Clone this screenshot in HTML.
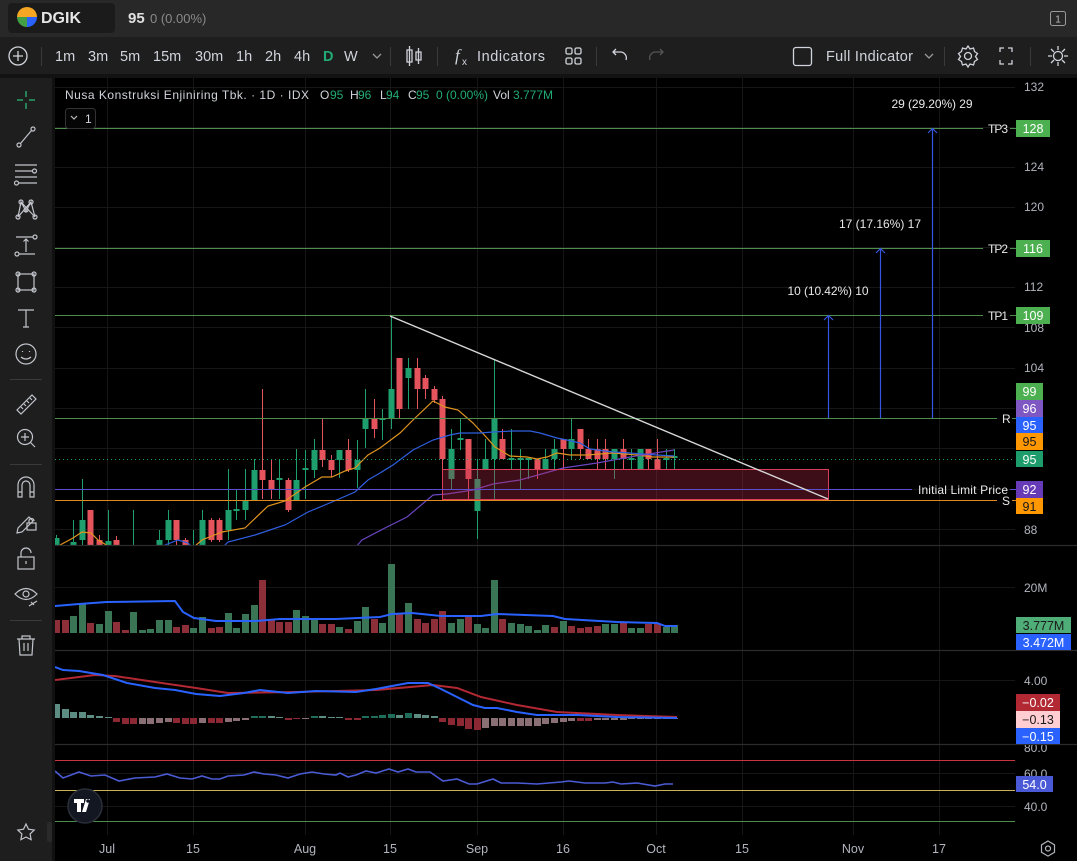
<!DOCTYPE html>
<html><head><meta charset="utf-8">
<style>
html,body{margin:0;padding:0;background:#000;width:1077px;height:861px;overflow:hidden}
svg{display:block;font-family:"Liberation Sans",sans-serif}
</style></head><body>
<svg width="1077" height="861" viewBox="0 0 1077 861" xmlns="http://www.w3.org/2000/svg">
<defs>
<clipPath id="cm"><rect x="55" y="78" width="960" height="467"/></clipPath>
<clipPath id="cp"><rect x="55" y="545" width="960" height="290"/></clipPath>
<clipPath id="cr"><rect x="1015" y="745" width="62" height="90"/></clipPath>
</defs>
<rect width="1077" height="861" fill="#000"/>
<!-- header -->
<rect x="0" y="0" width="1077" height="37" fill="#282828"/>
<rect x="0" y="37" width="1077" height="37" fill="#1e1e1e"/>
<rect x="0" y="74" width="1077" height="4" fill="#121212"/>
<rect x="0" y="78" width="52" height="783" fill="#1e1e1e"/>
<rect x="52" y="78" width="3" height="783" fill="#111"/>
<rect x="8" y="3" width="107" height="30" rx="4" fill="#1b1b1b"/>
<path d="M17,17 A10,10 0 0 1 37,17 Z" fill="#f5a623"/>
<path d="M17,17 L27,17 L27,27 A10,10 0 0 1 17,17 Z" fill="#43a047"/>
<path d="M27,17 L37,17 A10,10 0 0 1 27,27 Z" fill="#2962ff"/>
<text x="41" y="23" font-size="16" font-weight="bold" fill="#e6e6e6">DGIK</text>
<text x="128" y="23" font-size="15" font-weight="bold" fill="#e0e0e0">95</text>
<text x="150" y="23" font-size="13" fill="#8a8a8a">0 (0.00%)</text>
<rect x="1050.5" y="11.5" width="15" height="14" rx="2" fill="none" stroke="#9a9a9a"/>
<text x="1058" y="22.5" font-size="10" fill="#bbb" text-anchor="middle">1</text>
<!-- toolbar -->
<g fill="none" stroke="#d1d4dc" stroke-width="1.3">
<circle cx="18" cy="56" r="9"/><path d="M18,51V61M13,56H23"/>
<path d="M373,54l4,4l4,-4" stroke="#999"/>
<path d="M409.5,46V66M407,50h5v12h-5z M418.5,48V64M416,52h5v8h-5z"/>
<rect x="566" y="48" width="6" height="6" rx="1.5"/><rect x="575" y="48" width="6" height="6" rx="1.5"/><rect x="566" y="58" width="6" height="6" rx="1.5"/><rect x="575" y="58" width="6" height="6" rx="1.5"/>
<path d="M626,60 A6,6 0 0 0 620,52 H613 M616,49l-3,3l3,3"/>
<path d="M650,60 A6,6 0 0 1 656,52 H663 M660,49l3,3l-3,3" stroke="#555"/>
<rect x="793.5" y="47.5" width="18" height="18" rx="2.5"/>
<path d="M925,54l4,4l4,-4" stroke="#999"/>
<circle cx="968" cy="56" r="3.5"/><path d="M968,46l2,3l3.5,-1l1,3.5l3,2l-2,3l2,3l-3,2l-1,3.5l-3.5,-1l-2,3l-2,-3l-3.5,1l-1,-3.5l-3,-2l2,-3l-2,-3l3,-2l1,-3.5l3.5,1z"/>
<path d="M1000,52v-4h4M1008,48h4v4M1012,60v4h-4M1004,64h-4v-4"/>
<circle cx="1058" cy="56" r="4.5"/><path d="M1058,46v4M1058,62v4M1048,56h4M1064,56h4M1051,49l3,3M1062,60l3,3M1065,49l-3,3M1054,60l-3,3"/>
</g>
<g stroke="#3a3a3a"><path d="M41.5,47V66M390.5,47V66M437.5,47V66M596.5,47V66M944.5,47V66M1030.5,47V66"/></g>
<g font-size="14.5" fill="#d1d4dc">
<text x="55" y="61">1m</text><text x="88" y="61">3m</text><text x="120" y="61">5m</text><text x="153" y="61">15m</text><text x="195" y="61">30m</text><text x="236" y="61">1h</text><text x="265" y="61">2h</text><text x="294" y="61">4h</text>
<text x="323" y="61" fill="#22ab74" font-weight="bold">D</text><text x="344" y="61">W</text>
<text x="455" y="61" font-style="italic" font-size="17" font-family="Liberation Serif,serif">f</text><text x="462" y="65" font-size="10">x</text>
<text x="477" y="61" textLength="68">Indicators</text>
<text x="826" y="61" textLength="87">Full Indicator</text>
</g>
<!-- left toolbar icons -->
<g fill="none" stroke="#c2c5cc" stroke-width="1.2">
<path d="M26,91V97M26,103V109M17,100H23M29,100H35" stroke="#26a269" stroke-width="1.5"/>
<circle cx="19" cy="145" r="2"/><circle cx="33" cy="129" r="2"/><path d="M20.5,143.5L31.5,130.5"/>
<path d="M15,165H37M15,171H32M15,177H37M19,183H37"/><circle cx="34.5" cy="171" r="2"/><circle cx="16.5" cy="183" r="2"/>
<path d="M18,217L21,202L26,211L31,202L35,217M18,217L31,202M21,202L35,217"/><circle cx="18" cy="217" r="2"/><circle cx="21" cy="202" r="2"/><circle cx="31" cy="202" r="2"/><circle cx="35" cy="217" r="2"/><circle cx="26" cy="210" r="2"/>
<path d="M16,237H33M19,254H35M26,252V239M23.5,241.5L26,239L28.5,241.5"/><circle cx="35" cy="237" r="2"/><circle cx="17" cy="254" r="2"/>
<rect x="18" y="274" width="16" height="16"/><circle cx="18" cy="274" r="2"/><circle cx="34" cy="274" r="2"/><circle cx="18" cy="290" r="2"/><circle cx="34" cy="290" r="2"/>
<path d="M18,310H34M26,310V327M23,327H29"/>
<circle cx="26" cy="354" r="10"/><path d="M21,357q5,4 10,0M22.5,351v1M29.5,351v1"/>
<path d="M17,410L32,395L36,399L21,414Z M21,407l2,2M24,404l2,2M27,401l2,2M30,398l2,2"/>
<circle cx="25" cy="437" r="7.5"/><path d="M25,433v8M21,437h8M30.5,442.5L35,447"/>
<path d="M18,497V485a8,8 0 0 1 16,0V497H30V485a4,4 0 0 0 -8,0V497Z M18,492h4M30,492h4"/>
<path d="M18,528L29,517L33,521L22,532L17,533Z"/><rect x="27" y="523" width="9" height="7"/><path d="M29,523v-2a2.5,2.5 0 0 1 5,0"/>
<rect x="18" y="557" width="16" height="12"/><path d="M21,557v-4a5,5 0 0 1 10,0"/><path d="M26,561v3"/>
<path d="M15,594q11,-11 22,0q-11,11 -22,0Z"/><circle cx="26" cy="594" r="3"/><path d="M29,606l8,-5M31,602l3,3"/>
<path d="M17,639H35M22,639V636H30V639M19,639L20,655H32L33,639M24,643V651M28,643V651"/>
<path d="M26,824l2.5,5.2l5.7,0.8l-4.1,4l1,5.7l-5.1,-2.7l-5.1,2.7l1,-5.7l-4.1,-4l5.7,-0.8Z"/>
</g>
<g stroke="#3a3a3a"><path d="M10,379.5H42M10,464.5H42M10,620.5H42"/></g>
<rect x="47" y="822" width="5" height="20" rx="2" fill="#2a2a2a"/>
<!-- grid -->
<g stroke="#161616" stroke-width="1">
<path d="M107.5,78V835M193.5,78V835M305.5,78V835M390.5,78V835M477.5,78V835M563.5,78V835M656.5,78V835M742.5,78V835M853.5,78V835M939.5,78V835"/>
<path d="M55,87.5H1015M55,127.5H1015M55,167.5H1015M55,207.5H1015M55,247.5H1015M55,287.5H1015M55,327.5H1015M55,368.5H1015M55,408.5H1015M55,448.5H1015M55,489.5H1015M55,529.5H1015"/>
<path d="M55,587.5H1015M55,680.5H1015M55,773.5H1015M55,806.5H1015"/>
</g>
<!-- main pane -->
<g clip-path="url(#cm)">
<g stroke="#1e9f6d" stroke-width="1"><path d="M56.5,535V545M73.5,520V545M82.5,479V545M108.5,510V545M133.5,510V545M159.5,530V545M168.5,510V545M193.5,530V545M202.5,510V545M228.5,469V540M236.5,489V520M245.5,469V520M254.5,459V501M279.5,459V499M296.5,449V500M305.5,450V499M314.5,439V478M339.5,450V478M357.5,440V488M365.5,389V448M382.5,409V440M391.5,316V429M408.5,358V409M451.5,429V489M460.5,419V450M477.5,459V539M485.5,439V469M494.5,359V499M511.5,429V470M520.5,449V489M528.5,459V479M545.5,449V469M554.5,439V469M571.5,419V459M614.5,449V479M631.5,449V469M640.5,449V469M666.5,449V469M674.5,449V469"/></g>
<g fill="#1e9f6d">
<rect x="53.5" y="538" width="6" height="7"/><rect x="70.5" y="542" width="6" height="3"/><rect x="79.5" y="520" width="6" height="20"/><rect x="105.5" y="541" width="6" height="4"/><rect x="156.5" y="540" width="6" height="5"/><rect x="165.5" y="520" width="6" height="20"/><rect x="199.5" y="520" width="6" height="25"/><rect x="225.5" y="510" width="6" height="20"/><rect x="233.5" y="509" width="6" height="2"/><rect x="242.5" y="500" width="6" height="10"/><rect x="251.5" y="470" width="6" height="30"/><rect x="276.5" y="478" width="6" height="2"/><rect x="293.5" y="480" width="6" height="20"/><rect x="302.5" y="468" width="6" height="2"/><rect x="311.5" y="450" width="6" height="20"/><rect x="336.5" y="450" width="6" height="10"/><rect x="354.5" y="460" width="6" height="10"/><rect x="362.5" y="419" width="6" height="10"/><rect x="379.5" y="418" width="6" height="2"/><rect x="388.5" y="389" width="6" height="30"/><rect x="405.5" y="368" width="6" height="10"/><rect x="448.5" y="449" width="6" height="30"/><rect x="457.5" y="438" width="6" height="2"/><rect x="474.5" y="479" width="6" height="32"/><rect x="482.5" y="459" width="6" height="10"/><rect x="491.5" y="419" width="6" height="40"/><rect x="508.5" y="458" width="6" height="2"/><rect x="517.5" y="458" width="6" height="2"/><rect x="525.5" y="458" width="6" height="2"/><rect x="542.5" y="459" width="6" height="10"/><rect x="551.5" y="449" width="6" height="10"/><rect x="568.5" y="439" width="6" height="10"/><rect x="611.5" y="449" width="6" height="10"/><rect x="628.5" y="458" width="6" height="2"/><rect x="637.5" y="449" width="6" height="20"/><rect x="663.5" y="458" width="6" height="2"/><rect x="671.5" y="456" width="6" height="2"/>
</g>
<g stroke="#e5535d" stroke-width="1"><path d="M90.5,510V545M99.5,535V545M116.5,536V545M176.5,520V545M185.5,538V545M211.5,518V542M219.5,518V542M262.5,389V499M271.5,459V499M288.5,478V512M322.5,419V467M331.5,455V477M348.5,439V472M374.5,399V438M399.5,358V419M417.5,358V409M425.5,375V399M434.5,386V403M442.5,396V469M468.5,439V499M502.5,429V459M537.5,459V479M563.5,439V469M580.5,429V459M588.5,439V459M597.5,439V469M605.5,439V469M623.5,439V469M648.5,449V469M657.5,439V469"/></g>
<g fill="#e5535d">
<rect x="87.5" y="510" width="6" height="35"/><rect x="96.5" y="540" width="6" height="5"/><rect x="113.5" y="540" width="6" height="5"/><rect x="173.5" y="520" width="6" height="20"/><rect x="182.5" y="540" width="6" height="5"/><rect x="208.5" y="520" width="6" height="20"/><rect x="216.5" y="520" width="6" height="20"/><rect x="259.5" y="470" width="6" height="10"/><rect x="268.5" y="480" width="6" height="10"/><rect x="285.5" y="480" width="6" height="30"/><rect x="319.5" y="450" width="6" height="10"/><rect x="328.5" y="460" width="6" height="10"/><rect x="345.5" y="450" width="6" height="20"/><rect x="371.5" y="419" width="6" height="10"/><rect x="396.5" y="358" width="6" height="51"/><rect x="414.5" y="368" width="6" height="21"/><rect x="422.5" y="378" width="6" height="11"/><rect x="431.5" y="389" width="6" height="11"/><rect x="439.5" y="399" width="6" height="60"/><rect x="465.5" y="439" width="6" height="40"/><rect x="499.5" y="439" width="6" height="20"/><rect x="534.5" y="459" width="6" height="10"/><rect x="560.5" y="439" width="6" height="10"/><rect x="577.5" y="429" width="6" height="20"/><rect x="585.5" y="449" width="6" height="10"/><rect x="594.5" y="449" width="6" height="10"/><rect x="602.5" y="449" width="6" height="10"/><rect x="620.5" y="449" width="6" height="10"/><rect x="645.5" y="449" width="6" height="10"/><rect x="654.5" y="459" width="6" height="10"/>
</g>
<g fill="none" stroke-width="1.2">
<path stroke="#e0941f" d="M60,545 L73,538 L82,532 L91,533 L98,540 L108,546 M195,546 L202,540 L222,532 L245,528 L268,506 L285,501 L305,487 L322,477 L332,477 L345,471 L355,468 L368,455 L380,448 L400,433 L413,420 L433,401 L445,407 L458,410 L473,423 L487,438 L495,447 L510,456 L527,457 L537,459 L547,457 L557,453 L570,455 L587,455 L613,453 L637,455 L653,457 L674,457"/>
<path stroke="#2f5fe0" d="M160,548 L165,545 L178,540 L188,543 L193,548 M222,548 L228,542 L255,535 L285,525 L308,512 L332,502 L355,492 L368,480 L380,473 L393,465 L413,450 L433,440 L450,435 L460,433 L480,433 L493,432 L513,431 L530,431 L540,433 L557,438 L567,440 L580,443 L590,449 L613,452 L630,453 L657,455 L674,456"/>
<path stroke="#6b45c0" d="M355,548 L362,540 L385,528 L407,517 L433,495 L447,494 L473,490 L493,484 L520,480 L563,468 L597,463 L630,457 L674,450"/>
</g>
<rect x="442.5" y="469.5" width="386" height="30" fill="rgba(190,40,75,0.32)" stroke="#d8405a" stroke-width="1"/>
</g>
<!-- horizontal levels -->
<g stroke-width="1" fill="none">
<path stroke="#4e8f4e" d="M55,128.5H983M1010,128.5H1016M55,248.5H983M1010,248.5H1016M55,315.5H983M1010,315.5H1016M55,418.5H997M1012,418.5H1016"/>
<path stroke="#5a4fcf" d="M55,489.5H912M1010,489.5H1016"/>
<path stroke="#e08a1e" d="M55,500.5H997M1012,500.5H1016"/>
<path stroke="#1e9f6d" stroke-dasharray="1,3" d="M55,459.5H1015"/>
<path stroke="#d8d8d8" stroke-width="1.4" d="M390,316L828,499"/>
<path stroke="#3556e0" stroke-width="1.2" d="M828.5,418V316M824,320l4.5,-4.5l4.5,4.5M880.5,418V249M876,253l4.5,-4.5l4.5,4.5M932.5,418V129M928,133l4.5,-4.5l4.5,4.5"/>
</g>
<g font-size="12" fill="#e8e8e8">
<text x="828" y="295" text-anchor="middle" textLength="81">10 (10.42%) 10</text>
<text x="880" y="228" text-anchor="middle" textLength="82">17 (17.16%) 17</text>
<text x="932" y="108" text-anchor="middle" textLength="81">29 (29.20%) 29</text>
<text x="988" y="133" textLength="20">TP3</text>
<text x="988" y="253" textLength="20">TP2</text>
<text x="988" y="320" textLength="20">TP1</text>
<text x="1002" y="423">R</text>
<text x="918" y="494" textLength="90">Initial Limit Price</text>
<text x="1002" y="505">S</text>
</g>
<!-- legend -->
<g font-size="12" fill="#d1d4dc">
<text x="65" y="99" textLength="244">Nusa Konstruksi Enjiniring Tbk. · 1D · IDX</text>
<text x="320" y="99">O</text><text x="330" y="99" fill="#22ab74">95</text>
<text x="350" y="99">H</text><text x="358" y="99" fill="#22ab74">96</text>
<text x="380" y="99">L</text><text x="386" y="99" fill="#22ab74">94</text>
<text x="408" y="99">C</text><text x="416" y="99" fill="#22ab74">95</text>
<text x="436" y="99" fill="#22ab74" textLength="52">0 (0.00%)</text>
<text x="493" y="99">Vol</text><text x="513" y="99" fill="#22ab74">3.777M</text>
</g>
<rect x="65.5" y="108.5" width="30" height="20" rx="3" fill="#050505" stroke="#333"/>
<path d="M71,116l3,3l3,-3" fill="none" stroke="#bbb" stroke-width="1.2"/>
<text x="85" y="123" font-size="12" fill="#d1d4dc">1</text>
<!-- lower panes -->
<g clip-path="url(#cp)">
<g fill="#3a7656">
<rect x="70" y="616" width="7" height="17"/><rect x="79" y="603" width="7" height="30"/><rect x="96" y="624" width="7" height="9"/><rect x="105" y="611" width="7" height="22"/><rect x="130" y="612" width="7" height="21"/><rect x="139" y="630" width="7" height="3"/><rect x="147" y="629" width="7" height="4"/><rect x="156" y="620" width="7" height="13"/><rect x="165" y="620" width="7" height="13"/><rect x="190" y="628" width="7" height="5"/><rect x="199" y="617" width="7" height="16"/><rect x="225" y="613" width="7" height="20"/><rect x="233" y="628" width="7" height="5"/><rect x="242" y="614" width="7" height="19"/><rect x="251" y="605" width="7" height="28"/><rect x="293" y="610" width="7" height="23"/><rect x="302" y="616" width="7" height="17"/><rect x="311" y="619" width="7" height="14"/><rect x="336" y="627" width="7" height="6"/><rect x="354" y="621" width="7" height="12"/><rect x="362" y="607" width="7" height="26"/><rect x="379" y="623" width="7" height="10"/><rect x="388" y="564" width="7" height="69"/><rect x="405" y="603" width="7" height="30"/><rect x="448" y="623" width="7" height="10"/><rect x="457" y="619" width="7" height="14"/><rect x="474" y="624" width="7" height="9"/><rect x="482" y="628" width="7" height="5"/><rect x="491" y="580" width="7" height="53"/><rect x="508" y="623" width="7" height="10"/><rect x="517" y="624" width="7" height="9"/><rect x="525" y="626" width="7" height="7"/><rect x="534" y="630" width="7" height="3"/><rect x="542" y="625" width="7" height="8"/><rect x="560" y="621" width="7" height="12"/><rect x="602" y="624" width="7" height="9"/><rect x="611" y="624" width="7" height="9"/><rect x="628" y="628" width="7" height="5"/><rect x="637" y="628" width="7" height="5"/><rect x="663" y="627" width="7" height="6"/><rect x="671" y="625" width="7" height="8"/>
</g>
<g fill="#8d2f38">
<rect x="53" y="620" width="7" height="13"/><rect x="62" y="620" width="7" height="13"/><rect x="87" y="623" width="7" height="10"/><rect x="113" y="622" width="7" height="11"/><rect x="122" y="630" width="7" height="3"/><rect x="173" y="627" width="7" height="6"/><rect x="182" y="625" width="7" height="8"/><rect x="208" y="628" width="7" height="5"/><rect x="216" y="627" width="7" height="6"/><rect x="259" y="580" width="7" height="53"/><rect x="268" y="620" width="7" height="13"/><rect x="276" y="622" width="7" height="11"/><rect x="285" y="622" width="7" height="11"/><rect x="319" y="624" width="7" height="9"/><rect x="328" y="624" width="7" height="9"/><rect x="345" y="629" width="7" height="4"/><rect x="371" y="619" width="7" height="14"/><rect x="396" y="614" width="7" height="19"/><rect x="414" y="619" width="7" height="14"/><rect x="422" y="623" width="7" height="10"/><rect x="431" y="619" width="7" height="14"/><rect x="439" y="611" width="7" height="22"/><rect x="465" y="617" width="7" height="16"/><rect x="499" y="619" width="7" height="14"/><rect x="551" y="627" width="7" height="6"/><rect x="568" y="626" width="7" height="7"/><rect x="577" y="628" width="7" height="5"/><rect x="585" y="627" width="7" height="6"/><rect x="594" y="626" width="7" height="7"/><rect x="620" y="623" width="7" height="10"/><rect x="645" y="624" width="7" height="9"/><rect x="654" y="624" width="7" height="9"/>
</g>
<path fill="none" stroke="#2962ff" stroke-width="2" d="M55,606 L79,604 L107,602 L175,601 L183,612 L194,618 L216,621 L256,621 L280,619 L336,619 L380,617 L392,614 L412,613 L441,616 L481,616 L497,614 L553,616 L565,619 L617,622 L657,623 L665,626 L677,626"/>
<!-- MACD hist -->
<g fill="#5d8c82"><rect x="53" y="704" width="7" height="14"/><rect x="62" y="709" width="7" height="9"/><rect x="70" y="712" width="7" height="6"/><rect x="79" y="712" width="7" height="6"/><rect x="87" y="715" width="7" height="3"/><rect x="96" y="716" width="7" height="2"/><rect x="105" y="717" width="7" height="1"/><rect x="268" y="716" width="7" height="2"/><rect x="276" y="717" width="7" height="1"/><rect x="319" y="716" width="7" height="2"/><rect x="328" y="717" width="7" height="1"/><rect x="336" y="717" width="7" height="1"/><rect x="396" y="715" width="7" height="3"/><rect x="414" y="714" width="7" height="4"/><rect x="422" y="715" width="7" height="3"/><rect x="431" y="716" width="7" height="2"/></g>
<g fill="#1f6e5c"><rect x="251" y="716" width="7" height="2"/><rect x="259" y="716" width="7" height="2"/><rect x="311" y="716" width="7" height="2"/><rect x="362" y="716" width="7" height="2"/><rect x="371" y="716" width="7" height="2"/><rect x="379" y="715" width="7" height="3"/><rect x="388" y="714" width="7" height="4"/><rect x="405" y="713" width="7" height="5"/></g>
<g fill="#8c2833"><rect x="113" y="718" width="7" height="4"/><rect x="122" y="718" width="7" height="6"/><rect x="130" y="718" width="7" height="6"/><rect x="173" y="718" width="7" height="5"/><rect x="182" y="718" width="7" height="6"/><rect x="190" y="718" width="7" height="6"/><rect x="208" y="718" width="7" height="5"/><rect x="216" y="718" width="7" height="5"/><rect x="285" y="718" width="7" height="2"/><rect x="293" y="718" width="7" height="1"/><rect x="345" y="718" width="7" height="2"/><rect x="354" y="718" width="7" height="2"/><rect x="439" y="718" width="7" height="4"/><rect x="448" y="718" width="7" height="7"/><rect x="457" y="718" width="7" height="8"/><rect x="465" y="718" width="7" height="11"/><rect x="474" y="718" width="7" height="12"/><rect x="577" y="718" width="7" height="3"/><rect x="585" y="718" width="7" height="3"/></g>
<g fill="#8a7074"><rect x="139" y="718" width="7" height="6"/><rect x="147" y="718" width="7" height="6"/><rect x="156" y="718" width="7" height="5"/><rect x="165" y="718" width="7" height="4"/><rect x="199" y="718" width="7" height="5"/><rect x="225" y="718" width="7" height="4"/><rect x="233" y="718" width="7" height="3"/><rect x="242" y="718" width="7" height="2"/><rect x="302" y="718" width="7" height="1"/><rect x="482" y="718" width="7" height="10"/><rect x="491" y="718" width="7" height="8"/><rect x="499" y="718" width="7" height="8"/><rect x="508" y="718" width="7" height="8"/><rect x="517" y="718" width="7" height="8"/><rect x="525" y="718" width="7" height="8"/><rect x="534" y="718" width="7" height="8"/><rect x="542" y="718" width="7" height="6"/><rect x="551" y="718" width="7" height="5"/><rect x="560" y="718" width="7" height="4"/><rect x="568" y="718" width="7" height="3"/><rect x="594" y="718" width="7" height="2"/><rect x="602" y="718" width="7" height="2"/><rect x="611" y="718" width="7" height="2"/><rect x="620" y="718" width="7" height="2"/><rect x="628" y="718" width="7" height="1"/><rect x="637" y="718" width="7" height="1"/><rect x="645" y="718" width="7" height="1"/><rect x="654" y="718" width="7" height="1"/><rect x="663" y="718" width="7" height="1"/><rect x="671" y="718" width="7" height="1"/></g>
<path fill="none" stroke="#b22833" stroke-width="2" d="M55,680 L95,675 L115,676 L155,682 L196,688 L228,693 L296,692 L376,690 L433,685 L457,688 L481,697 L517,705 L557,712 L617,715 L677,717"/>
<path fill="none" stroke="#2962ff" stroke-width="2" d="M55,667 L63,670 L79,671 L103,675 L127,683 L155,688 L175,690 L196,694 L220,696 L244,693 L260,690 L288,693 L316,691 L356,692 L376,689 L392,686 L408,683 L428,683 L441,689 L457,697 L473,705 L485,708 L497,708 L517,712 L537,715 L577,715 L617,717 L677,718"/>
<!-- RSI -->
<path stroke="#c8343f" d="M55,760.5H1015"/>
<path stroke="#c9b458" d="M55,790.5H1015"/>
<path stroke="#4c8c4c" d="M55,821.5H1015"/>
<path fill="none" stroke="#4a5bd4" stroke-width="1.6" d="M55,771 L63,778 L79,772 L91,776 L105,775 L119,781 L135,778 L155,777 L167,774 L180,778 L192,779 L202,776 L212,779 L220,779 L228,776 L244,775 L254,772 L264,774 L276,775 L288,778 L300,774 L312,772 L324,774 L336,775 L340,773 L348,777 L356,775 L366,771 L376,773 L389,769 L398,772 L408,769 L416,772 L430,772 L443,781 L457,779 L469,784 L477,784 L493,779 L501,783 L517,783 L537,784 L561,782 L569,781 L585,783 L605,783 L613,782 L621,784 L637,783 L655,786 L665,784 L673,784"/>
</g>
<!-- TV logo -->
<circle cx="85" cy="806" r="17" fill="#131722" stroke="#2a2e39" stroke-width="1.5"/>
<path d="M74,799h10v4h-3v9h-4v-9h-3z M86,799h4l-4,13h-4z" fill="#fff"/>
<circle cx="88" cy="801" r="1.8" fill="#131722"/>
<!-- pane separators -->
<g stroke="#2b2b2b" stroke-width="1.2"><path d="M55,545.5H1077M55,650.5H1077M55,744.5H1077"/></g>
<!-- axis labels -->
<g font-size="12" fill="#b2b5be">
<text x="1024" y="91">132</text><text x="1024" y="171">124</text><text x="1024" y="211">120</text><text x="1024" y="291">112</text><text x="1024" y="332">108</text><text x="1024" y="372">104</text><text x="1024" y="534">88</text>
<text x="1024" y="592">20M</text><text x="1024" y="685">4.00</text>
<text x="1024" y="752" clip-path="url(#cr)">80.0</text>
<text x="1024" y="778">60.0</text><text x="1024" y="811">40.0</text>
</g>
<g font-size="12.5" fill="#fff" text-anchor="middle">
<rect x="1016" y="120" width="34" height="17" fill="#4caf50"/><text x="1033" y="133">128</text>
<rect x="1016" y="240" width="34" height="17" fill="#4caf50"/><text x="1033" y="253">116</text>
<rect x="1016" y="307" width="34" height="17" fill="#4caf50"/><text x="1033" y="320">109</text>
<rect x="1016" y="383" width="27" height="17" fill="#4caf50"/><text x="1029.5" y="396">99</text>
<rect x="1016" y="400" width="27" height="17" fill="#7e57c2"/><text x="1029.5" y="413">96</text>
<rect x="1016" y="417" width="27" height="16" fill="#2962ff"/><text x="1029.5" y="430">95</text>
<rect x="1016" y="433" width="27" height="17" fill="#ff9800"/><text x="1029.5" y="446" fill="#131722">95</text>
<rect x="1016" y="451" width="27" height="16" fill="#1e9d6c"/><text x="1029.5" y="464">95</text>
<rect x="1016" y="481" width="27" height="17" fill="#673ab7"/><text x="1029.5" y="494">92</text>
<rect x="1016" y="498" width="27" height="16" fill="#ff9800"/><text x="1029.5" y="511" fill="#131722">91</text>
<rect x="1016" y="617" width="55" height="16" fill="#4fae78"/><text x="1043.5" y="630" fill="#1a1a1a">3.777M</text>
<rect x="1016" y="634" width="55" height="16" fill="#2962ff"/><text x="1043.5" y="647">3.472M</text>
<rect x="1016" y="694" width="44" height="17" fill="#b22833"/><text x="1038" y="707">−0.02</text>
<rect x="1016" y="711" width="44" height="17" fill="#ffcdd2"/><text x="1038" y="724" fill="#1a1a1a">−0.13</text>
<rect x="1016" y="728" width="44" height="16" fill="#2962ff"/><text x="1038" y="741">−0.15</text>
<rect x="1016" y="776" width="37" height="16" fill="#4a5ad6"/><text x="1034.5" y="789">54.0</text>
</g>
<!-- time axis -->
<g font-size="12.5" fill="#b2b5be" text-anchor="middle">
<text x="107" y="853">Jul</text><text x="193" y="853">15</text><text x="305" y="853">Aug</text><text x="390" y="853">15</text><text x="477" y="853">Sep</text><text x="563" y="853">16</text><text x="656" y="853">Oct</text><text x="742" y="853">15</text><text x="853" y="853">Nov</text><text x="939" y="853">17</text>
</g>
<g fill="none" stroke="#b2b5be" stroke-width="1.2"><path d="M1048,841l6.5,3.8v7.5l-6.5,3.8l-6.5,-3.8v-7.5z"/><circle cx="1048" cy="848.5" r="2.5"/></g>
</svg>
</body></html>
